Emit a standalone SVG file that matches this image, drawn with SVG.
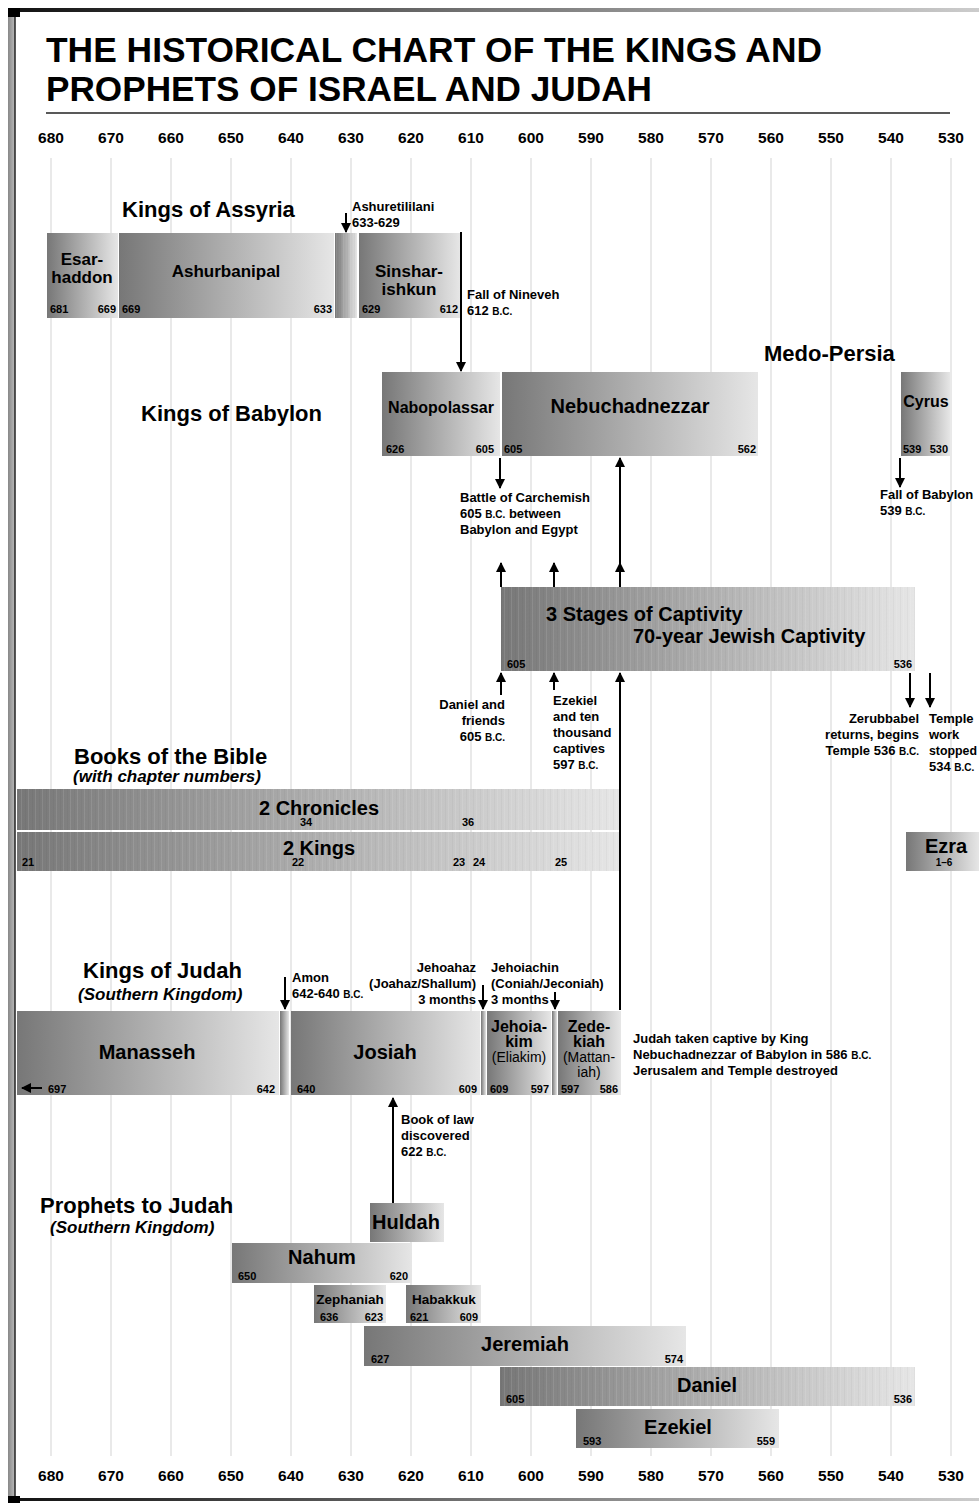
<svg xmlns="http://www.w3.org/2000/svg" width="979" height="1503" viewBox="0 0 979 1503">
<defs>
<linearGradient id="bg" x1="0" y1="0" x2="1" y2="0"><stop offset="0" stop-color="#777"/><stop offset="1" stop-color="#e6e6e6"/></linearGradient>
<linearGradient id="topg" x1="0" y1="0" x2="1" y2="0"><stop offset="0" stop-color="#111"/><stop offset="0.5" stop-color="#777"/><stop offset="1" stop-color="#ccc"/></linearGradient>
<linearGradient id="leftg" x1="0" y1="0" x2="1" y2="0"><stop offset="0" stop-color="#888"/><stop offset="1" stop-color="#bbb"/></linearGradient>
<pattern id="stripes" width="7" height="10" patternUnits="userSpaceOnUse"><rect x="0" y="0" width="1" height="10" fill="#fff" opacity="0.1"/><rect x="4" y="0" width="1" height="10" fill="#000" opacity="0.03"/></pattern>
<marker id="ah" viewBox="0 0 10 10" refX="9" refY="5" markerWidth="10" markerHeight="10" markerUnits="userSpaceOnUse" orient="auto"><path d="M0,0 L10,5 L0,10 z" fill="#000"/></marker>
</defs>
<style>
text{font-family:"Liberation Sans",Arial,sans-serif;fill:#000}
.title{font-size:35px;font-weight:bold}
.ax{font-size:15.5px;font-weight:bold;text-anchor:middle}
.lbl{font-size:22px;font-weight:bold}
.sub{font-size:17px;font-weight:bold;font-style:italic}
.bt{font-size:20px;font-weight:bold;text-anchor:middle}
.bs{font-size:17px;font-weight:bold;text-anchor:middle}
.ann{font-size:13px;font-weight:bold}
.yr{font-size:11px;font-weight:bold}
.e{text-anchor:end}
.sc{font-size:10px}
.bar{fill:url(#bg)}
.str{fill:url(#stripes)}
.grid line{stroke:#e2e2e2;stroke-width:1.5}
.conn line{stroke:#000;stroke-width:2;marker-end:url(#ah)}
</style>
<rect width="979" height="1503" fill="#fff"/>
<g id="border">
<rect x="8" y="8" width="971" height="4" fill="url(#topg)"/>
<rect x="8" y="8" width="7" height="1495" fill="url(#leftg)"/>
<line x1="15" y1="12" x2="15" y2="1503" stroke="#222" stroke-width="1.5"/>
<rect x="8" y="1498" width="971" height="3" fill="url(#topg)"/>
<rect x="8" y="8" width="12" height="9" fill="#000"/>
<rect x="8" y="1496" width="12" height="7" fill="#000"/>
</g>
<g id="title">
<text class="title" x="46" y="62" textLength="776" lengthAdjust="spacingAndGlyphs">THE HISTORICAL CHART OF THE KINGS AND</text>
<text class="title" x="46" y="101" textLength="606" lengthAdjust="spacingAndGlyphs">PROPHETS OF ISRAEL AND JUDAH</text>
<line x1="46" y1="113" x2="950" y2="113" stroke="#222" stroke-width="1.5"/>
</g>
<g class="grid" id="grid">
<line x1="51" y1="158" x2="51" y2="1456"/><line x1="111" y1="158" x2="111" y2="1456"/><line x1="171" y1="158" x2="171" y2="1456"/><line x1="231" y1="158" x2="231" y2="1456"/><line x1="291" y1="158" x2="291" y2="1456"/><line x1="351" y1="158" x2="351" y2="1456"/><line x1="411" y1="158" x2="411" y2="1456"/><line x1="471" y1="158" x2="471" y2="1456"/><line x1="531" y1="158" x2="531" y2="1456"/><line x1="591" y1="158" x2="591" y2="1456"/><line x1="651" y1="158" x2="651" y2="1456"/><line x1="711" y1="158" x2="711" y2="1456"/><line x1="771" y1="158" x2="771" y2="1456"/><line x1="831" y1="158" x2="831" y2="1456"/><line x1="891" y1="158" x2="891" y2="1456"/><line x1="951" y1="158" x2="951" y2="1456"/>
</g>
<g id="axis-top">
<text class="ax" x="51" y="143">680</text><text class="ax" x="111" y="143">670</text><text class="ax" x="171" y="143">660</text><text class="ax" x="231" y="143">650</text><text class="ax" x="291" y="143">640</text><text class="ax" x="351" y="143">630</text><text class="ax" x="411" y="143">620</text><text class="ax" x="471" y="143">610</text><text class="ax" x="531" y="143">600</text><text class="ax" x="591" y="143">590</text><text class="ax" x="651" y="143">580</text><text class="ax" x="711" y="143">570</text><text class="ax" x="771" y="143">560</text><text class="ax" x="831" y="143">550</text><text class="ax" x="891" y="143">540</text><text class="ax" x="951" y="143">530</text>
</g>
<g id="axis-bottom">
<text class="ax" x="51" y="1481">680</text><text class="ax" x="111" y="1481">670</text><text class="ax" x="171" y="1481">660</text><text class="ax" x="231" y="1481">650</text><text class="ax" x="291" y="1481">640</text><text class="ax" x="351" y="1481">630</text><text class="ax" x="411" y="1481">620</text><text class="ax" x="471" y="1481">610</text><text class="ax" x="531" y="1481">600</text><text class="ax" x="591" y="1481">590</text><text class="ax" x="651" y="1481">580</text><text class="ax" x="711" y="1481">570</text><text class="ax" x="771" y="1481">560</text><text class="ax" x="831" y="1481">550</text><text class="ax" x="891" y="1481">540</text><text class="ax" x="951" y="1481">530</text>
</g>
<g id="labels">
<text class="lbl" x="122" y="217">Kings of Assyria</text>
<text class="lbl" x="764" y="361">Medo-Persia</text>
<text class="lbl" x="141" y="421">Kings of Babylon</text>
<text class="lbl" x="74" y="764">Books of the Bible</text>
<text class="sub" x="73" y="782">(with chapter numbers)</text>
<text class="lbl" x="83" y="978">Kings of Judah</text>
<text class="sub" x="78" y="1000">(Southern Kingdom)</text>
<text class="lbl" x="40" y="1213">Prophets to Judah</text>
<text class="sub" x="50" y="1233">(Southern Kingdom)</text>
</g>
<g id="esarhaddon"><rect class="bar" x="47" y="233" width="71" height="85"/><text class="bs" x="82" y="265">Esar-</text><text class="bs" x="82" y="283">haddon</text><text class="yr" x="50" y="313">681</text><text class="yr e" x="116" y="313">669</text></g>
<g id="ashurbanipal"><rect class="bar" x="119" y="233" width="215" height="85"/><text class="bs" x="226" y="277">Ashurbanipal</text><text class="yr" x="122" y="313">669</text><text class="yr e" x="332" y="313">633</text></g>
<g id="ashuretililani"><rect class="bar" x="335" y="233" width="22" height="85"/><rect class="str" x="335" y="233" width="22" height="85"/><text class="ann" x="352" y="211">Ashuretililani</text><text class="ann" x="352" y="227">633-629</text></g>
<g id="sinsharishkun"><rect class="bar" x="359" y="233" width="101" height="85"/><text class="bs" x="409" y="277">Sinshar-</text><text class="bs" x="409" y="295">ishkun</text><text class="yr" x="362" y="313">629</text><text class="yr e" x="458" y="313">612</text></g>
<g id="nineveh"><text class="ann" x="467" y="299">Fall of Nineveh</text><text class="ann" x="467" y="315">612 <tspan class="sc">B.C.</tspan></text></g>
<g id="nabopolassar"><rect class="bar" x="382" y="372" width="118" height="84"/><text class="bs" x="441" y="413" style="font-size:16px">Nabopolassar</text><text class="yr" x="386" y="453">626</text><text class="yr e" x="494" y="453">605</text></g>
<g id="nebuchadnezzar"><rect class="bar" x="502" y="372" width="256" height="84"/><text class="bt" x="630" y="413">Nebuchadnezzar</text><text class="yr" x="504" y="453">605</text><text class="yr e" x="756" y="453">562</text></g>
<g id="cyrus"><rect class="bar" x="901" y="372" width="49" height="84"/><text class="bs" x="926" y="407" style="font-size:16px">Cyrus</text><text class="yr" x="903" y="453">539</text><text class="yr e" x="948" y="453">530</text></g>
<g id="carchemish"><text class="ann" x="460" y="502">Battle of Carchemish</text><text class="ann" x="460" y="518">605 <tspan class="sc">B.C.</tspan> between</text><text class="ann" x="460" y="534">Babylon and Egypt</text></g>
<g id="fallbabylon"><text class="ann" x="880" y="499">Fall of Babylon</text><text class="ann" x="880" y="515">539 <tspan class="sc">B.C.</tspan></text></g>
<g id="captivity"><rect class="bar" x="501" y="587" width="414" height="84"/><rect class="str" x="501" y="587" width="414" height="84"/><text class="bt" x="546" y="621" style="text-anchor:start">3 Stages of Captivity</text><text class="bt" x="633" y="643" style="text-anchor:start">70-year Jewish Captivity</text><text class="yr" x="507" y="668">605</text><text class="yr e" x="912" y="668">536</text></g>
<g id="daniel-note"><text class="ann e" x="505" y="709">Daniel and</text><text class="ann e" x="505" y="725">friends</text><text class="ann e" x="505" y="741">605 <tspan class="sc">B.C.</tspan></text></g>
<g id="ezekiel-note"><text class="ann" x="553" y="705">Ezekiel</text><text class="ann" x="553" y="721">and ten</text><text class="ann" x="553" y="737">thousand</text><text class="ann" x="553" y="753">captives</text><text class="ann" x="553" y="769">597 <tspan class="sc">B.C.</tspan></text></g>
<g id="zerubbabel"><text class="ann e" x="919" y="723">Zerubbabel</text><text class="ann e" x="919" y="739">returns, begins</text><text class="ann e" x="919" y="755">Temple 536 <tspan class="sc">B.C.</tspan></text></g>
<g id="temple"><text class="ann" x="929" y="723">Temple</text><text class="ann" x="929" y="739">work</text><text class="ann" x="929" y="755" textLength="48" lengthAdjust="spacingAndGlyphs">stopped</text><text class="ann" x="929" y="771">534 <tspan class="sc">B.C.</tspan></text></g>
<g id="chronicles"><rect class="bar" x="17" y="789" width="603" height="41"/><rect class="str" x="17" y="789" width="603" height="41"/><text class="bt" x="319" y="815">2 Chronicles</text><text class="yr" x="300" y="826">34</text><text class="yr" x="462" y="826">36</text></g>
<g id="kings"><rect class="bar" x="17" y="832" width="603" height="39"/><rect class="str" x="17" y="832" width="603" height="39"/><text class="bt" x="319" y="855">2 Kings</text><text class="yr" x="22" y="866">21</text><text class="yr" x="292" y="866">22</text><text class="yr" x="453" y="866">23</text><text class="yr" x="473" y="866">24</text><text class="yr" x="555" y="866">25</text></g>
<g id="ezra"><rect class="bar" x="906" y="832" width="73" height="39"/><text class="bt" x="946" y="853">Ezra</text><text class="yr" x="944" y="866" text-anchor="middle" style="font-size:10px">1–6</text></g>
<g id="manasseh"><rect class="bar" x="17" y="1011" width="262" height="84"/><text class="bt" x="147" y="1059">Manasseh</text><line x1="42" y1="1088" x2="22" y2="1088" stroke="#000" stroke-width="2" marker-end="url(#ah)"/><text class="yr" x="48" y="1093">697</text><text class="yr e" x="275" y="1093">642</text></g>
<g id="amon"><rect class="bar" x="280" y="1011" width="9" height="84"/><text class="ann" x="292" y="982">Amon</text><text class="ann" x="292" y="998">642-640 <tspan class="sc">B.C.</tspan></text></g>
<g id="josiah"><rect class="bar" x="291" y="1011" width="189" height="84"/><text class="bt" x="385" y="1059">Josiah</text><text class="yr" x="297" y="1093">640</text><text class="yr e" x="477" y="1093">609</text></g>
<g id="jehoahaz"><rect class="bar" x="481" y="1011" width="5" height="84"/><text class="ann e" x="476" y="972">Jehoahaz</text><text class="ann e" x="476" y="988">(Joahaz/Shallum)</text><text class="ann e" x="476" y="1004">3 months</text></g>
<g id="jehoiakim"><rect class="bar" x="487" y="1011" width="64" height="84"/><text class="bs" x="519" y="1032" style="font-size:16px">Jehoia-</text><text class="bs" x="519" y="1047" style="font-size:16px">kim</text><text x="519" y="1062" text-anchor="middle" font-size="14">(Eliakim)</text><text class="yr" x="490" y="1093">609</text><text class="yr e" x="549" y="1093">597</text></g>
<g id="jehoiachin"><rect class="bar" x="552" y="1011" width="5" height="84"/><text class="ann" x="491" y="972">Jehoiachin</text><text class="ann" x="491" y="988">(Coniah/Jeconiah)</text><text class="ann" x="491" y="1004">3 months</text></g>
<g id="zedekiah"><rect class="bar" x="558" y="1011" width="63" height="84"/><text class="bs" x="589" y="1032" style="font-size:16px">Zede-</text><text class="bs" x="589" y="1047" style="font-size:16px">kiah</text><text x="589" y="1062" text-anchor="middle" font-size="14">(Mattan-</text><text x="589" y="1077" text-anchor="middle" font-size="14">iah)</text><text class="yr" x="561" y="1093">597</text><text class="yr e" x="618" y="1093">586</text></g>
<g id="captive-note"><text class="ann" x="633" y="1043">Judah taken captive by King</text><text class="ann" x="633" y="1059">Nebuchadnezzar of Babylon in 586 <tspan class="sc">B.C.</tspan></text><text class="ann" x="633" y="1075">Jerusalem and Temple destroyed</text></g>
<g id="lawbook"><text class="ann" x="401" y="1124">Book of law</text><text class="ann" x="401" y="1140">discovered</text><text class="ann" x="401" y="1156">622 <tspan class="sc">B.C.</tspan></text></g>
<g id="huldah"><rect class="bar" x="370" y="1203" width="74" height="39"/><text class="bt" x="406" y="1229">Huldah</text></g>
<g id="nahum"><rect class="bar" x="232" y="1243" width="180" height="40"/><text class="bt" x="322" y="1264">Nahum</text><text class="yr" x="238" y="1280">650</text><text class="yr e" x="408" y="1280">620</text></g>
<g id="zephaniah"><rect class="bar" x="314" y="1285" width="72" height="38"/><text class="bs" x="350" y="1304" style="font-size:13.5px">Zephaniah</text><text class="yr" x="320" y="1321">636</text><text class="yr e" x="383" y="1321">623</text></g>
<g id="habakkuk"><rect class="bar" x="406" y="1285" width="75" height="38"/><text class="bs" x="444" y="1304" style="font-size:13.5px">Habakkuk</text><text class="yr" x="410" y="1321">621</text><text class="yr e" x="478" y="1321">609</text></g>
<g id="jeremiah"><rect class="bar" x="364" y="1326" width="322" height="40"/><text class="bt" x="525" y="1351">Jeremiah</text><text class="yr" x="371" y="1363">627</text><text class="yr e" x="683" y="1363">574</text></g>
<g id="daniel"><rect class="bar" x="500" y="1367" width="415" height="39"/><rect class="str" x="500" y="1367" width="415" height="39"/><text class="bt" x="707" y="1392">Daniel</text><text class="yr" x="506" y="1403">605</text><text class="yr e" x="912" y="1403">536</text></g>
<g id="ezekiel"><rect class="bar" x="576" y="1409" width="203" height="39"/><text class="bt" x="678" y="1434">Ezekiel</text><text class="yr" x="583" y="1445">593</text><text class="yr e" x="775" y="1445">559</text></g>
<g class="conn" id="connectors">
<line x1="346" y1="213" x2="346" y2="232"/>
<line x1="461" y1="232" x2="461" y2="371"/>
<line x1="500" y1="458" x2="500" y2="488"/>
<line x1="900" y1="458" x2="900" y2="487"/>
<line x1="620" y1="587" x2="620" y2="563"/>
<line x1="620" y1="565" x2="620" y2="458"/>
<line x1="501" y1="587" x2="501" y2="563"/>
<line x1="554" y1="587" x2="554" y2="563"/>
<line x1="501" y1="695" x2="501" y2="673"/>
<line x1="554" y1="690" x2="554" y2="673"/>
<line x1="620" y1="1010" x2="620" y2="673"/>
<line x1="910" y1="673" x2="910" y2="707"/>
<line x1="930" y1="673" x2="930" y2="707"/>
<line x1="285" y1="977" x2="285" y2="1009"/>
<line x1="483" y1="985" x2="483" y2="1009"/>
<line x1="555" y1="992" x2="555" y2="1009"/>
<line x1="393" y1="1203" x2="393" y2="1098"/>
</g>
</svg>
